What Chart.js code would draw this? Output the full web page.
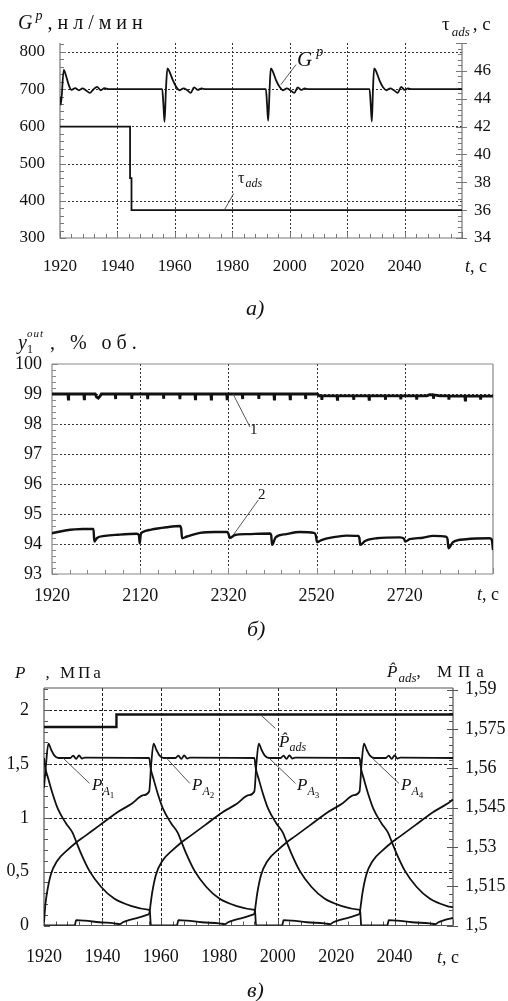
<!DOCTYPE html>
<html>
<head>
<meta charset="utf-8">
<style>
  body { margin: 0; background: #fff; width: 508px; height: 1001px; position: relative; overflow: hidden;
         font-family: "Liberation Serif", "DejaVu Serif", serif; color: #111; }
  canvas { position: absolute; left: 0; }
  .t { position: absolute; white-space: nowrap; line-height: 1; }
  .t .r { position: relative; }
</style>
</head>
<body>
<canvas id="chartA" width="508" height="290" style="top:0"></canvas>
<canvas id="chartB" width="508" height="320" style="top:310px"></canvas>
<canvas id="chartC" width="508" height="330" style="top:640px"></canvas>
<script src="https://cdn.jsdelivr.net/npm/chart.js"></script>
<script>
// ---------- chart a) : G^p and tau_ads ----------
const gpT = [1920, 1920.3, 1921.3, 1922.1, 1923, 1924, 1925.3, 1926.6, 1927.8, 1929, 1930.4, 1931.6, 1932.9, 1934.2, 1935.5, 1936.8,
  1955.6, 1956, 1956.4, 1956.9, 1957.4, 1958.2, 1959.3, 1960.5, 1961.7, 1963, 1964.2, 1965.5, 1966.7, 1968, 1969.3, 1970.6,
  1991.7, 1992.1, 1992.5, 1993, 1993.4, 1994.2, 1995.3, 1996.5, 1997.7, 1999, 2000.2, 2001.6, 2002.8, 2004, 2005.2, 2006.5,
  2027.8, 2028.2, 2028.6, 2029, 2029.4, 2030.2, 2031.3, 2032.5, 2033.7, 2035, 2036.3, 2037.6, 2038.8, 2040, 2041.2, 2042.5, 2060];
const gpV = [680, 658, 752, 736, 712, 698, 703, 697, 702, 697, 690, 699, 706, 697, 703, 700,
  700, 660, 612, 700, 756, 746, 724, 706, 697, 702, 698, 690, 705, 698, 702, 700,
  700, 660, 615, 700, 756, 746, 723, 706, 697, 702, 697, 690, 705, 698, 702, 700,
  700, 660, 613, 700, 756, 746, 723, 705, 697, 702, 697, 690, 706, 698, 702, 700, 700];
const tauT = [1920, 1944.4, 1944.4, 1944.9, 1944.9, 2060];
const tauV = [42, 42, 38.3, 38.3, 36, 36];

// ---------- chart б) : y1_out, curves 1 and 2 ----------
const y1T = [1920, 1956.2, 1957, 1957.8, 1992.2, 1993, 1993.8, 2018, 2021, 2025, 2029, 2032,
  2063.2, 2064, 2064.8, 2100.2, 2101, 2101.8, 2136.2, 2137, 2137.8, 2172.2, 2173, 2173.8,
  2209.2, 2210, 2210.8, 2244.2, 2245, 2245.8, 2280.2, 2281, 2281.8, 2316.2, 2317, 2317.8,
  2351.2, 2352, 2352.8, 2388.2, 2389, 2389.8, 2423.2, 2424, 2424.8, 2459.2, 2460, 2460.8,
  2494.2, 2495, 2495.8, 2522, 2526, 2531.2, 2532, 2532.8, 2566.2, 2567, 2567.8,
  2603.2, 2604, 2604.8, 2638.2, 2639, 2639.8, 2675.2, 2676, 2676.8, 2710.2, 2711, 2711.8,
  2746.2, 2747, 2747.8, 2770, 2776, 2784.2, 2785, 2785.8, 2800, 2819.2, 2820, 2820.8,
  2856.2, 2857, 2857.8, 2891.2, 2892, 2892.8, 2920];
const y1V = [99, 99, 98.83, 99, 99, 98.84, 99, 99, 98.9, 98.86, 98.93, 99,
  99, 98.83, 99, 99, 98.84, 99, 99, 98.83, 99, 99, 98.84, 99,
  99, 98.83, 99, 99, 98.84, 99, 99, 98.83, 99, 99, 98.84, 99,
  99, 98.83, 99, 99, 98.84, 99, 99, 98.83, 99, 99, 98.84, 99,
  99, 98.83, 99, 99, 98.94, 98.94, 98.8, 98.94, 98.94, 98.82, 98.94,
  98.94, 98.81, 98.94, 98.94, 98.82, 98.94, 98.94, 98.81, 98.94, 98.94, 98.82, 98.94,
  98.94, 98.81, 98.94, 98.94, 98.98, 98.97, 98.84, 98.97, 98.94, 98.94, 98.81, 98.94,
  98.93, 98.8, 98.93, 98.93, 98.81, 98.93, 98.93];
const y2T = [1920, 1950, 1990, 2014, 2016, 2022, 2040, 2070, 2112, 2117, 2119, 2121, 2126, 2145, 2180, 2210, 2213, 2215,
  2226, 2256, 2290, 2318, 2321, 2323, 2335, 2365, 2414, 2417, 2419, 2427, 2451, 2482, 2514, 2518, 2521, 2531, 2556, 2587,
  2614, 2617, 2619, 2630, 2656, 2709, 2718, 2721, 2731, 2761, 2784, 2814, 2817, 2819, 2829, 2859, 2912, 2917, 2920];
const y2V = [94.36, 94.45, 94.5, 94.5, 94.08, 94.2, 94.27, 94.31, 94.34, 94.3, 94.02, 94.3, 94.4, 94.48, 94.56, 94.6, 94.5, 94.19,
  94.25, 94.37, 94.4, 94.4, 94.3, 94.2, 94.3, 94.33, 94.35, 94.3, 93.97, 94.22, 94.33, 94.4, 94.37, 94.3, 94.06, 94.13, 94.22, 94.28,
  94.27, 94.2, 93.97, 94.1, 94.19, 94.22, 94.18, 94.08, 94.16, 94.21, 94.27, 94.24, 94.15, 93.86, 94.06, 94.16, 94.19, 94.15, 93.8];

// ---------- chart в) : adsorber pressures ----------
const pa1T = [1920, 1920.7, 1921.5, 1922.5, 1923.5, 1925, 1929, 1930, 1931, 1932, 1933, 1934, 1956,
  1956.5, 1957.5, 1959, 1960.8, 1963.5, 1965.8, 1967, 1968.5, 1971.5, 1975.5, 1980, 1986, 1991.6, 1992.2,
  1992.6, 2001.5, 2002, 2005, 2010, 2016, 2018, 2019, 2021, 2024, 2027.5, 2028,
  2028.5, 2029, 2030.3, 2032.5, 2036, 2038.5, 2042, 2047, 2053, 2058, 2060];
const pa1V = [1.28, 1.5, 1.69, 1.63, 1.58, 1.556, 1.556, 1.578, 1.548, 1.58, 1.55, 1.56, 1.556,
  1.46, 1.36, 1.22, 1.08, 0.95, 0.86, 0.78, 0.68, 0.51, 0.36, 0.25, 0.18, 0.148, 0.14,
  0, 0, 0.05, 0.045, 0.03, 0.02, 0.012, 0.03, 0.05, 0.07, 0.1, 0.11,
  0.2, 0.3, 0.47, 0.6, 0.7, 0.76, 0.83, 0.93, 1.05, 1.13, 1.17];
const pa2T = [1920, 1920.5, 1921, 1922.3, 1924.5, 1928, 1930.5, 1934, 1939, 1945, 1950, 1954, 1956,
  1956.7, 1957.5, 1958.5, 1959.5, 1961, 1965, 1966, 1967, 1968, 1969, 1970, 1992,
  1992.5, 1993.5, 1995, 1996.8, 1999.5, 2001.8, 2003, 2004.5, 2007.5, 2011.5, 2016, 2022, 2027.6, 2028.2,
  2028.6, 2037.5, 2038, 2041, 2046, 2052, 2054, 2055, 2057, 2060];
const pa2V = [0.03, 0.2, 0.3, 0.47, 0.6, 0.7, 0.76, 0.83, 0.93, 1.05, 1.13, 1.21, 1.245,
  1.5, 1.69, 1.63, 1.58, 1.556, 1.556, 1.578, 1.548, 1.58, 1.55, 1.56, 1.556,
  1.46, 1.36, 1.22, 1.08, 0.95, 0.86, 0.78, 0.68, 0.51, 0.36, 0.25, 0.18, 0.148, 0.14,
  0, 0, 0.05, 0.045, 0.03, 0.02, 0.012, 0.03, 0.05, 0.07];
const pa3T = [1920, 1930.5, 1931, 1934, 1939, 1944, 1946, 1947, 1949, 1952, 1955.5, 1956,
  1956.5, 1957, 1958.3, 1960.5, 1964, 1966.5, 1970, 1975, 1981, 1986, 1990, 1992,
  1992.7, 1993.5, 1994.5, 1995.5, 1997, 2001, 2002, 2003, 2004, 2005, 2006, 2028,
  2028.5, 2029.5, 2031, 2032.8, 2035.5, 2037.8, 2039, 2040.5, 2043.5, 2047.5, 2052, 2058, 2060];
const pa3V = [0, 0, 0.05, 0.045, 0.03, 0.02, 0.012, 0.03, 0.05, 0.07, 0.1, 0.11,
  0.2, 0.3, 0.47, 0.6, 0.7, 0.76, 0.83, 0.93, 1.05, 1.13, 1.21, 1.245,
  1.5, 1.69, 1.63, 1.58, 1.556, 1.556, 1.578, 1.548, 1.58, 1.55, 1.56, 1.556,
  1.46, 1.36, 1.22, 1.08, 0.95, 0.86, 0.78, 0.68, 0.51, 0.36, 0.25, 0.18, 0.17];
const pa4T = [1920, 1920.5, 1921.5, 1923, 1924.8, 1927.5, 1929.8, 1931, 1932.5, 1935.5, 1939.5, 1944, 1950, 1955.6, 1956.2,
  1956.6, 1965.5, 1966, 1969, 1974, 1980, 1982, 1983, 1985, 1988, 1991.5, 1992,
  1992.5, 1993, 1994.3, 1996.5, 2000, 2002.5, 2006, 2011, 2017, 2022, 2026, 2028,
  2028.7, 2029.5, 2030.5, 2031.5, 2033, 2037, 2038, 2039, 2040, 2041, 2042, 2060];
const pa4V = [1.556, 1.46, 1.36, 1.22, 1.08, 0.95, 0.86, 0.78, 0.68, 0.51, 0.36, 0.25, 0.18, 0.148, 0.14,
  0, 0, 0.05, 0.045, 0.03, 0.02, 0.012, 0.03, 0.05, 0.07, 0.1, 0.11,
  0.2, 0.3, 0.47, 0.6, 0.7, 0.76, 0.83, 0.93, 1.05, 1.13, 1.21, 1.245,
  1.5, 1.69, 1.63, 1.58, 1.556, 1.556, 1.578, 1.548, 1.58, 1.55, 1.56, 1.556];
const padsT = [1920, 1944.8, 1944.8, 2060];
const padsV = [1.5757, 1.5757, 1.5805, 1.5805];

// helpers
const pts = (t, v) => t.map((x, i) => ({ x, y: v[i] }));
const isMult = (v, m) => Math.abs(v / m - Math.round(v / m)) < 1e-6;
const comma = v => String(Math.round(v * 1000) / 1000).replace(".", ",");

function txt(x, base, size, html) {
  const d = document.createElement("div");
  d.className = "t";
  d.style.left = x + "px";
  d.style.top = (base - 0.84 * size) + "px";
  d.style.fontSize = size + "px";
  d.innerHTML = html;
  document.body.appendChild(d);
}

// grid, frame, inward ticks and leader lines
const frame = {
  id: "frame",
  beforeDatasetsDraw(chart, args, o) {
    const ctx = chart.ctx, a = chart.chartArea;
    ctx.save();
    ctx.lineWidth = 1;
    ctx.strokeStyle = o.gridColor;
    ctx.setLineDash(o.dash);
    for (const [id, m] of Object.entries(o.axes)) {
      const s = chart.scales[id];
      s.ticks.forEach(t => {
        if (!m.grid || !m.grid(t.value)) return;
        const p = Math.round(s.getPixelForValue(t.value)) + 0.5;
        ctx.beginPath();
        if (s.isHorizontal()) { ctx.moveTo(p, a.top); ctx.lineTo(p, a.bottom); }
        else { ctx.moveTo(a.left, p); ctx.lineTo(a.right, p); }
        ctx.stroke();
      });
    }
    ctx.setLineDash([]);
    ctx.strokeStyle = o.axisColor;
    ctx.lineWidth = 1.2;
    ctx.beginPath();
    ctx.moveTo(a.left, a.top); ctx.lineTo(a.left, a.bottom); ctx.lineTo(a.right, a.bottom);
    if (o.right) { ctx.moveTo(a.right, a.bottom); ctx.lineTo(a.right, a.top); }
    if (o.top) { ctx.moveTo(a.left, a.top); ctx.lineTo(a.right, a.top); }
    ctx.stroke();
    ctx.lineWidth = 1;
    for (const [id, m] of Object.entries(o.axes)) {
      const s = chart.scales[id];
      s.ticks.forEach(t => {
        const major = m.major(t.value);
        const len = major ? 6 : 4;
        const p = Math.round(s.getPixelForValue(t.value)) + 0.5;
        ctx.beginPath();
        if (s.isHorizontal()) { ctx.moveTo(p, a.bottom); ctx.lineTo(p, a.bottom - len); }
        else if (s.position === "left") { ctx.moveTo(a.left, p); ctx.lineTo(a.left + len, p); }
        else { ctx.moveTo(a.right - len, p); ctx.lineTo(a.right + (major ? 5 : 0), p); }
        ctx.stroke();
      });
    }
    ctx.restore();
  },
  afterDatasetsDraw(chart, args, o) {
    const ctx = chart.ctx, sx = chart.scales.x;
    ctx.save();
    ctx.strokeStyle = "#444";
    ctx.lineWidth = 0.9;
    (o.leaders || []).forEach(l => {
      const sy = chart.scales[l.axis];
      ctx.beginPath();
      ctx.moveTo(sx.getPixelForValue(l.x1), sy.getPixelForValue(l.y1));
      ctx.lineTo(sx.getPixelForValue(l.x2), sy.getPixelForValue(l.y2));
      ctx.stroke();
    });
    ctx.restore();
  }
};

function line(data, axis, w, smooth) {
  return {
    data, yAxisID: axis, borderColor: "#111", borderWidth: w, pointRadius: 0, fill: false,
    tension: 0, cubicInterpolationMode: smooth ? "monotone" : "default"
  };
}

function tickOpts(size, pad, cb, step) {
  return {
    stepSize: step, autoSkip: false, maxRotation: 0, minRotation: 0, padding: pad, color: "#111",
    includeBounds: false, font: { family: "Liberation Serif", size }, callback: cb
  };
}

const baseOpts = {
  responsive: false, animation: false, events: [],
  plugins: { legend: { display: false }, tooltip: { enabled: false } }
};
const noGrid = { display: false, drawTicks: false };
const noBorder = { display: false };

// chart a
new Chart(document.getElementById("chartA"), {
  type: "line",
  data: { datasets: [line(pts(gpT, gpV), "y", 1.8, true), line(pts(tauT, tauV), "y2", 1.8, false)] },
  plugins: [frame],
  options: {
    ...baseOpts,
    layout: { padding: { top: 43, left: 0, right: 0, bottom: 0 }, autoPadding: false },
    scales: {
      x: { type: "linear", min: 1920, max: 2060, grid: noGrid, border: noBorder,
           ticks: tickOpts(17, 18, v => (isMult(v, 20) && v < 2060) ? String(v) : "", 4),
           afterFit: s => { s.height = 52; } },
      y: { type: "linear", position: "left", min: 300, max: 824, grid: noGrid, border: noBorder,
           ticks: tickOpts(17, 15, v => (isMult(v, 100) && v <= 800) ? String(v) : "", 20),
           afterFit: s => { s.width = 60; } },
      y2: { type: "linear", position: "right", min: 34, max: 48, grid: noGrid, border: noBorder,
            ticks: tickOpts(17, 12, v => (isMult(v, 2) && v < 47) ? String(Math.round(v)) : "", 0.4),
            afterFit: s => { s.width = 46; } }
    },
    plugins: {
      ...baseOpts.plugins,
      frame: {
        gridColor: "#333", dash: [2, 2], axisColor: "#777", right: true, top: false,
        axes: {
          x: { grid: v => isMult(v, 20) && v > 1920 && v < 2060, major: v => isMult(v, 20) },
          y: { grid: v => isMult(v, 100) && v > 300 && v <= 800, major: v => isMult(v, 100) },
          y2: { major: v => isMult(v, 2) }
        },
        leaders: [
          { axis: "y", x1: 1996.9, y1: 712, x2: 2002.2, y2: 766 },
          { axis: "y2", x1: 1977.2, y1: 36, x2: 1980.5, y2: 37.2 }
        ]
      }
    }
  }
});

// chart б
new Chart(document.getElementById("chartB"), {
  type: "line",
  data: { datasets: [line(pts(y1T, y1V), "y", 2.8, false), line(pts(y2T, y2V), "y", 2.4, true)] },
  plugins: [frame],
  options: {
    ...baseOpts,
    layout: { padding: { top: 54, left: 0, right: 15, bottom: 0 }, autoPadding: false },
    scales: {
      x: { type: "linear", min: 1920, max: 2920, grid: noGrid, border: noBorder,
           ticks: tickOpts(18, 11, v => (isMult(v - 1920, 200) && v < 2920) ? String(v) : "", 40),
           afterFit: s => { s.height = 56; } },
      y: { type: "linear", position: "left", min: 93, max: 100, grid: noGrid, border: noBorder,
           ticks: tickOpts(18, 10, v => isMult(v, 1) ? String(Math.round(v)) : "", 0.2),
           afterFit: s => { s.width = 52; } }
    },
    plugins: {
      ...baseOpts.plugins,
      frame: {
        gridColor: "#333", dash: [2, 2], axisColor: "#888", right: true, top: true,
        axes: {
          x: { grid: v => isMult(v - 1920, 200) && v > 1920 && v < 2920, major: v => isMult(v - 1920, 200) },
          y: { grid: v => isMult(v, 1) && v > 93 && v < 100, major: v => isMult(v, 1) }
        },
        leaders: [
          { axis: "y", x1: 2330.6, y1: 99, x2: 2369, y2: 97.9 },
          { axis: "y", x1: 2331, y1: 94.3, x2: 2388, y2: 95.47 }
        ]
      }
    }
  }
});

// chart в
new Chart(document.getElementById("chartC"), {
  type: "line",
  data: {
    datasets: [
      line(pts(pa1T, pa1V), "y", 1.8, true), line(pts(pa2T, pa2V), "y", 1.8, true),
      line(pts(pa3T, pa3V), "y", 1.8, true), line(pts(pa4T, pa4V), "y", 1.8, true),
      line(pts(padsT, padsV), "y2", 2.4, false)
    ]
  },
  plugins: [frame],
  options: {
    ...baseOpts,
    layout: { padding: { top: 48, left: 0, right: 0, bottom: 0 }, autoPadding: false },
    scales: {
      x: { type: "linear", min: 1920, max: 2060, grid: noGrid, border: noBorder,
           ticks: tickOpts(18, 21, v => (isMult(v, 20) && v < 2060) ? String(v) : "", 4),
           afterFit: s => { s.height = 44.5; } },
      y: { type: "linear", position: "left", min: 0, max: 2.206, grid: noGrid, border: noBorder,
           ticks: tickOpts(18, 15, v => isMult(v, 0.5) ? comma(v) : "", 0.1),
           afterFit: s => { s.width = 44; } },
      y2: { type: "linear", position: "right", min: 1.5, max: 1.5906, grid: noGrid, border: noBorder,
            ticks: tickOpts(18, 12, v => isMult(v, 0.015) ? comma(v) : "", 0.003),
            afterFit: s => { s.width = 55; } }
    },
    plugins: {
      ...baseOpts.plugins,
      frame: {
        gridColor: "#222", dash: [3, 2], axisColor: "#555", right: true, top: true,
        axes: {
          x: { grid: v => isMult(v, 20) && v > 1920 && v < 2060, major: v => isMult(v, 20) },
          y: { grid: v => isMult(v, 0.5) && v > 0, major: v => isMult(v, 0.5) },
          y2: { major: v => isMult(v, 0.015) }
        },
        leaders: [
          { axis: "y", x1: 1926.5, y1: 1.556, x2: 1935.6, y2: 1.32 },
          { axis: "y", x1: 1961.9, y1: 1.556, x2: 1969.9, y2: 1.32 },
          { axis: "y", x1: 1997, y1: 1.556, x2: 2006.1, y2: 1.32 },
          { axis: "y", x1: 2032.3, y1: 1.556, x2: 2041.5, y2: 1.32 },
          { axis: "y2", x1: 1994.1, y1: 1.5804, x2: 1999.2, y2: 1.5752 }
        ]
      }
    }
  }
});

// texts: axis titles, annotations, captions
txt(18, 29, 20, '<i>G</i><i class="r" style="top:-9px;font-size:14px;margin-left:3px">p</i><span style="letter-spacing:5px;margin-left:5px">,нл/мин</span>');
txt(442, 30, 19, 'τ<i class="r" style="top:6px;font-size:13px;margin-left:2px">ads</i><span style="margin-left:3px">, с</span>');
txt(465, 272, 18, '<i>t</i>, с');
txt(297, 67, 21, '<i>G</i><i class="r" style="top:-10px;font-size:14px;margin-left:4px">p</i>');
txt(238, 183, 16, 'τ<i class="r" style="top:4px;font-size:12px;margin-left:1px">ads</i>');
txt(246, 315, 22, '<i>а)</i>');

txt(18, 349, 20, '<i>y</i><span class="r" style="top:4px;font-size:12px">1</span><i class="r" style="top:-12px;font-size:11px;margin-left:-6px;letter-spacing:1px">out</i><span style="letter-spacing:5px;margin-left:6px">, % об.</span>');
txt(477, 600, 18, '<i>t</i>, с');
txt(250, 435, 15, '1');
txt(258, 500, 15, '2');
txt(247, 636, 22, '<i>б)</i>');

txt(15, 678, 17, '<i>P</i><span style="letter-spacing:3px;margin-left:20px">, МПа</span>');
txt(387, 677, 17, '<i>P̂</i><i class="r" style="top:5px;font-size:13px;margin-left:1px">ads</i><span style="letter-spacing:6px">, МПа</span>');
txt(437, 963, 18, '<i>t</i>, с');
txt(247, 997, 22, '<i>в)</i>');
[[92, "1"], [192, "2"], [297, "3"], [401, "4"]].forEach(([x, n]) =>
  txt(x, 790, 17, '<i>P</i><i class="r" style="top:5px;font-size:12px">A</i><span class="r" style="top:8px;font-size:9px">' + n + '</span>'));
txt(279, 747, 17, '<i>P̂</i><i class="r" style="top:4px;font-size:12px">ads</i>');
</script>
</body>
</html>
